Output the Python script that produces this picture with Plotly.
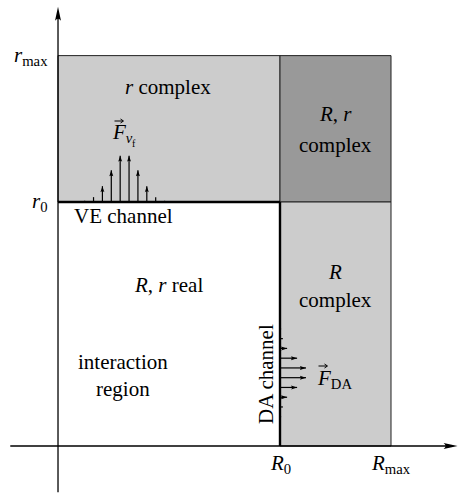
import plotly.graph_objects as go

# Boundary values of the (R, r) plane
R0, R_MAX = 1.0, 1.5
r0, r_MAX = 1.0, 1.6

# Extent of the two coordinate axes
R_AXIS = (-0.215, 1.80)
r_AXIS = (-0.19, 1.80)

# Force distribution along the VE channel (vertical arrows standing on r = r0)
ve_R = [0.12, 0.16, 0.20, 0.24, 0.28, 0.32, 0.36, 0.40, 0.44, 0.48]
ve_F = [0.005, 0.02, 0.065, 0.13, 0.19, 0.19, 0.13, 0.065, 0.02, 0.005]

# Force distribution along the DA channel (horizontal arrows leaving R = R0)
da_r = [0.48, 0.44, 0.40, 0.36, 0.32, 0.28, 0.24, 0.20, 0.16, 0.12]
da_F = [0.005, 0.013, 0.032, 0.077, 0.117, 0.117, 0.077, 0.032, 0.013, 0.005]

HEAD_MIN = 0.025   # shorter force arrows are drawn as plain ticks

LIGHT = "#cccccc"
DARK = "#999999"
EDGE = "#222222"
FONT = "Liberation Serif"
SIZE = 21
W, H = 459, 496
X_RANGE = [-0.2613, 1.8063]
Y_RANGE = [-0.2049, 1.8279]


def px(x, y):
    """Figure-pixel position -> paper coordinates."""
    return x / W, 1 - y / H


def head(x, y, direction, length, half):
    """Arrow head (pixel-sized path) with its tip at data point (x, y)."""
    if direction == "up":
        path = f"M0,0 L{-half},{-length} Q0,{-length * 0.72} {half},{-length} Z"
    else:
        path = f"M0,0 L{-length},{half} Q{-length * 0.72},0 {-length},{-half} Z"
    return dict(type="path", path=path, xref="x", yref="y",
                xsizemode="pixel", ysizemode="pixel",
                xanchor=x, yanchor=y,
                fillcolor="black", line=dict(width=0), layer="above")


def vec_accent(x_px, y_px):
    """Small vector arrow drawn above a symbol, centred at a figure pixel."""
    ax, ay = px(x_px, y_px)
    return dict(type="path", path="M-4.5,0 L4,0 M1.5,2 L4.5,0 L1.5,-2",
                xref="paper", yref="paper", xsizemode="pixel", ysizemode="pixel",
                xanchor=ax, yanchor=ay,
                line=dict(color="black", width=1), layer="above")


fig = go.Figure()

shapes = []
# Regions of the plane
shapes.append(dict(type="rect", x0=0, x1=R0, y0=r0, y1=r_MAX,
                   fillcolor=LIGHT, line=dict(color=EDGE, width=1), layer="below"))
shapes.append(dict(type="rect", x0=R0, x1=R_MAX, y0=r0, y1=r_MAX,
                   fillcolor=DARK, line=dict(color=EDGE, width=1), layer="below"))
shapes.append(dict(type="rect", x0=R0, x1=R_MAX, y0=0, y1=r0,
                   fillcolor=LIGHT, line=dict(color=EDGE, width=1), layer="below"))

# VE and DA channels
shapes.append(dict(type="line", x0=0, x1=R0, y0=r0, y1=r0,
                   line=dict(color="black", width=2.4), layer="above"))
shapes.append(dict(type="line", x0=R0, x1=R0, y0=0, y1=r0,
                   line=dict(color="black", width=2.4), layer="above"))

# Coordinate axes with arrow heads
shapes.append(dict(type="line", x0=R_AXIS[0], x1=R_AXIS[1] - 0.02, y0=0, y1=0,
                   line=dict(color="black", width=1.3), layer="above"))
shapes.append(dict(type="line", x0=0, x1=0, y0=r_AXIS[0], y1=r_AXIS[1] - 0.02,
                   line=dict(color="black", width=1.3), layer="above"))
shapes.append(head(R_AXIS[1], 0, "right", 14, 3))
shapes.append(head(0, r_AXIS[1], "up", 14, 3))

# Force arrows on the VE channel
vx, vy = [], []
for R, F in zip(ve_R, ve_F):
    vx += [R, R, None]
    vy += [r0, r0 + F, None]
    if F >= HEAD_MIN:
        shapes.append(head(R, r0 + F, "up", 6, 2))
fig.add_trace(go.Scatter(x=vx, y=vy, mode="lines",
                         line=dict(color="black", width=1.2),
                         hoverinfo="skip", showlegend=False))

# Force arrows on the DA channel
dx, dy = [], []
for r, F in zip(da_r, da_F):
    dx += [R0, R0 + F, None]
    dy += [r, r, None]
    if F >= HEAD_MIN:
        shapes.append(head(R0 + F, r, "right", 6, 2))
fig.add_trace(go.Scatter(x=dx, y=dy, mode="lines",
                         line=dict(color="black", width=1.2),
                         hoverinfo="skip", showlegend=False))

# Vector accents over the two force symbols
shapes.append(vec_accent(119, 121))
shapes.append(vec_accent(323, 366))

annotations = []


def label(text, x, y, size=SIZE, xanchor="center", yanchor="middle",
          xref="paper", yref="paper", angle=0):
    annotations.append(dict(text=text, x=x, y=y, xref=xref, yref=yref,
                            xanchor=xanchor, yanchor=yanchor, showarrow=False,
                            textangle=angle,
                            font=dict(family=FONT, size=size, color="black")))


# Axis value labels
label("<i>r</i><sub>max</sub>", px(50, 0)[0], r_MAX, xanchor="right", yref="y")
label("<i>r</i><sub>0</sub>", px(50, 0)[0], r0, xanchor="right", yref="y")
label("<i>R</i><sub>0</sub>", R0, px(0, 464)[1], xref="x")
label("<i>R</i><sub>max</sub>", R_MAX, px(0, 464)[1], xref="x")

# Region names
label("<i>r</i> complex", *px(168, 87))
label("<i>R</i>, <i>r</i>", *px(335, 114))
label("complex", *px(335, 145))
label("<i>R</i>, <i>r</i> real", *px(168, 285))
label("<i>R</i>", *px(335, 272))
label("complex", *px(335, 300))
label("interaction", *px(123, 362))
label("region", *px(123, 389))

# Channels and forces
label("VE channel", *px(123, 216))
label("DA channel", *px(266, 374), angle=-90)
label("<i>F</i><sub><i>v</i></sub>", *px(110, 133), xanchor="left")
label("f", *px(134, 143), size=10)
label("<i>F</i><sub>DA</sub>", *px(315, 379), xanchor="left")

fig.update_layout(
    width=W, height=H,
    margin=dict(l=0, r=0, t=0, b=0),
    paper_bgcolor="white", plot_bgcolor="white",
    xaxis=dict(range=X_RANGE, visible=False, fixedrange=True),
    yaxis=dict(range=Y_RANGE, visible=False, fixedrange=True),
    shapes=shapes, annotations=annotations,
    showlegend=False,
)

fig.write_html("out.html")
